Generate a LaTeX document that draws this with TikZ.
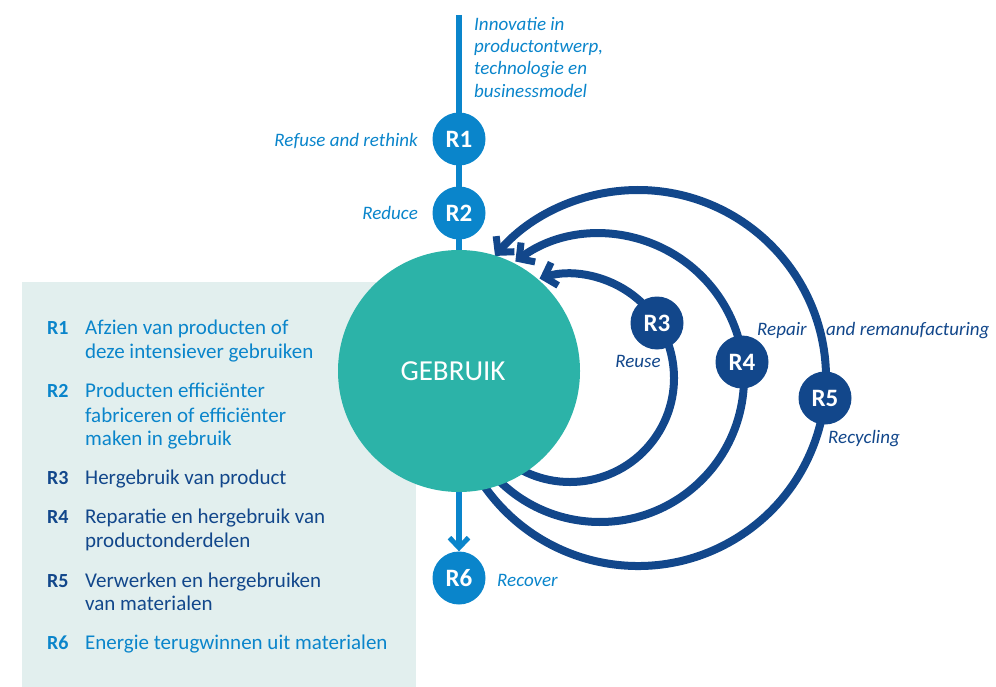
\documentclass[tikz,border=0pt]{standalone}
\usepackage{fontspec}
\setmainfont{Carlito}
\usetikzlibrary{arrows.meta}
\definecolor{rblue}{HTML}{0A85CB}
\definecolor{rnavy}{HTML}{12478B}
\definecolor{rteal}{HTML}{2CB3A8}
\definecolor{rmint}{HTML}{E2EFEE}

\begin{document}
\begin{tikzpicture}[x=1pt, y=1pt,
  rcirc/.style={circle, minimum size=53pt, inner sep=0pt, text=white, font=\fontsize{25}{25}\selectfont\bfseries},
  stem/.style={rblue, line width=5.3pt},
  loopline/.style={rnavy, line width=8pt, -{Straight Barb[length=11pt, width=24pt, line width=7pt]}},
  lab/.style={inner sep=0pt, font=\fontsize{19}{22.3}\selectfont\itshape},
  legkey/.style={anchor=base west, inner sep=0pt, font=\fontsize{20}{24}\selectfont\bfseries},
  legtext/.style={anchor=base west, inner sep=0pt, font=\fontsize{21}{24}\selectfont}]
  \useasboundingbox (0,0) rectangle (996,-687);
  \fill[rmint] (22,-282) rectangle (416,-687);
  \coordinate (top) at (459,-15);
  \coordinate (gc) at (459,-371);
  \coordinate (c3) at (570,-378);
  \coordinate (c4) at (600,-378);
  \coordinate (c5) at (638,-378);
  \draw[stem] (top) -- (gc);
  \draw[loopline] (c3) ++(236:104pt) arc[start angle=236, end angle=467, radius=104pt];
  \draw[loopline] (c4) ++(222:144pt) arc[start angle=222, end angle=486, radius=144pt];
  \draw[loopline] (c5) ++(212:188pt) arc[start angle=212, end angle=499.5, radius=188pt];
  \node[circle, fill=rteal, minimum size=242pt, inner sep=0pt] (gebruik) at (gc) {};
  \node[text=white, font=\fontsize{29}{29}\selectfont] (gebruiktxt) at (453,-371) {GEBRUIK};
  \node[rcirc, fill=rblue] (r1) at (459,-139) {R1};
  \node[rcirc, fill=rblue] (r2) at (459,-213) {R2};
  \node[rcirc, fill=rnavy] (r3) at (657,-323) {R3};
  \node[rcirc, fill=rnavy] (r4) at (742,-362) {R4};
  \node[rcirc, fill=rnavy] (r5) at (825,-398) {R5};
  \node[rcirc, fill=rblue] (r6) at (459,-578) {R6};
  \draw[stem, -{Straight Barb[length=10pt, width=19pt, line width=5pt]}] (gebruik.south) -- (r6.north);
  \node[lab, rblue, anchor=north west, align=left] (innov) at (474,-17) {Innovatie in\\productontwerp,\\technologie en\\businessmodel};
  \node[lab, rblue, anchor=base east] (refuse) at (418,-147) {Refuse and rethink};
  \node[lab, rblue, anchor=base east] (reduce) at (418,-220) {Reduce};
  \node[lab, rnavy, anchor=base] (reuse) at (638,-367) {Reuse};
  \node[lab, rnavy, anchor=base west] (repair) at (757,-335) {Repair};
  \node[lab, rnavy, anchor=base west] (reman) at (826,-335) {and remanufacturing};
  \node[lab, rnavy, anchor=base west] (recycling) at (828,-443) {Recycling};
  \node[lab, rblue, anchor=base west] (recover) at (497,-586) {Recover};
  \foreach \k/\y in {1/334, 2/397, 6/649}
    \node[legkey, rblue] (key\k) at (47,-\y) {R\k};
  \foreach \k/\y in {3/484, 4/523, 5/587}
    \node[legkey, rnavy] (key\k) at (47,-\y) {R\k};
  \foreach \y/\t in {334/Afzien van producten of, 358/deze intensiever gebruiken, 397/Producten efficiënter, 422/fabriceren of efficiënter, 445/maken in gebruik, 649/Energie terugwinnen uit materialen}
    \node[legtext, rblue] (leg\y) at (85,-\y) {\t};
  \foreach \y/\t in {484/Hergebruik van product, 523/Reparatie en hergebruik van, 547/productonderdelen, 587/Verwerken en hergebruiken, 610/van materialen}
    \node[legtext, rnavy] (leg\y) at (85,-\y) {\t};
\end{tikzpicture}
\end{document}
